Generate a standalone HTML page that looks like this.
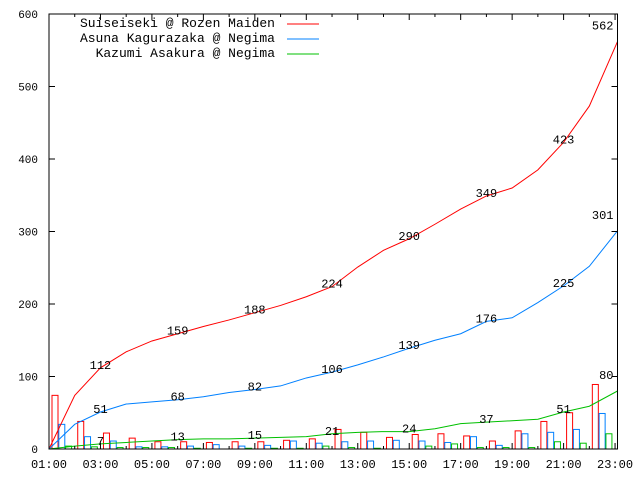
<!DOCTYPE html>
<html><head><meta charset="utf-8"><style>
body{margin:0;background:#fff}
svg{display:block}
text{font-family:"Liberation Mono","DejaVu Sans Mono",monospace;fill:#000}
</style></head><body>
<svg id="chart" width="640" height="480" xmlns="http://www.w3.org/2000/svg">
<rect x="0" y="0" width="640" height="480" fill="#fff"/>
<g id="bars"></g>
<g id="lines"></g>
<g id="axes"></g>
<g id="legend"></g>
</svg>
<script>
const hourLabels = ["01:00","03:00","05:00","07:00","09:00","11:00","13:00","15:00","17:00","19:00","21:00","23:00"];
const yTicks = [0,100,200,300,400,500,600];
const seriesNames = ["Suiseiseki @ Rozen Maiden","Asuna Kagurazaka @ Negima","Kazumi Asakura @ Negima"];
const seriesColors = ["#ff0000","#0080ff","#00c000"];
const redHourly = [74,38,22,15,10,10,9,10,10,12,14,27,23,16,20,21,18,11,25,38,50,89];
const blueHourly = [34,17,11,3,3,4,6,4,5,11,8,10,11,12,11,9,17,5,21,23,27,49];
const greenHourly = [4,3,2,2,2,1,0,1,1,1,4,2,1,0,4,7,2,2,2,10,8,21];
const labelIdx = [1,4,7,10,13,16,19];
const allHourly = [redHourly, blueHourly, greenHourly];

const NS = "http://www.w3.org/2000/svg";
const L = 49, R = 617.5, T = 14, B = 449;
const hourW = 25.73;
function xH(h){ return L + h*hourW; }
function yV(v){ return B - v*(B-T)/600; }
function mk(tag, attrs, parent){
  const e = document.createElementNS(NS, tag);
  for (const k in attrs) e.setAttribute(k, attrs[k]);
  parent.appendChild(e); return e;
}
const bars = document.getElementById('bars');
const lines = document.getElementById('lines');
const axes = document.getElementById('axes');
const legend = document.getElementById('legend');

allHourly.forEach((arr, s) => {
  arr.forEach((v, h) => {
    const x = xH(h) + 3 + s*6.8;
    const r = mk('rect', {x: x, y: yV(v), width: 6, height: Math.max(0, B - yV(v)), fill: 'none', stroke: seriesColors[s], 'stroke-width': 1}, bars);
    
    
  });
});

allHourly.forEach((arr, s) => {
  let c = 0; const pts = [[xH(0), yV(0)]]; const cum = [];
  arr.forEach((v, h) => {
    c += v; cum.push(c);
    const hx = (h === arr.length-1) ? (R - L)/hourW : h+1;
    pts.push([xH(hx), yV(c)]);
  });
  const p = mk('polyline', {points: pts.map(p => p.join(',')).join(' '), fill: 'none', stroke: seriesColors[s], 'stroke-width': 1}, lines);
  
  
  labelIdx.forEach(i => {
    const t = mk('text', {x: xH(i+1), y: yV(cum[i]) + 1, 'font-size': 12, 'text-anchor': 'middle'}, lines);
    t.textContent = cum[i];
    
    
  });
  const tl = mk('text', {x: R - 4, y: yV(cum[cum.length-1]) - 12, 'font-size': 12, 'text-anchor': 'end'}, lines);
  tl.textContent = cum[cum.length-1];
  
  
});

const fr = mk('rect', {x: L, y: T, width: R-L, height: B-T, fill: 'none', stroke: '#000', 'stroke-width': 1}, axes);


yTicks.forEach(v => {
  mk('line', {x1: L, x2: L+6, y1: yV(v), y2: yV(v), stroke: '#000'}, axes);
  mk('line', {x1: R-6, x2: R, y1: yV(v), y2: yV(v), stroke: '#000'}, axes);
  const t = mk('text', {x: 38, y: yV(v)+4, 'font-size': 11, 'text-anchor': 'end'}, axes);
  t.textContent = v;
  
  
});
for (let h = 0; h <= 22; h++) {
  const len = (h % 2 === 0) ? 6 : 3;
  mk('line', {x1: xH(h), x2: xH(h), y1: B, y2: B-len, stroke: '#000'}, axes);
  mk('line', {x1: xH(h), x2: xH(h), y1: T, y2: T+len, stroke: '#000'}, axes);
}
hourLabels.forEach((lab, i) => {
  const t = mk('text', {x: xH(i*2), y: 468, 'font-size': 12, 'text-anchor': 'middle'}, axes);
  t.textContent = lab;
  
  
});

seriesNames.forEach((n, i) => {
  const y = 27 + i*15;
  const t = mk('text', {x: 275, y: y, 'font-size': 13, 'text-anchor': 'end'}, legend);
  t.textContent = n;
  
  
  const l = mk('line', {x1: 287, x2: 319, y1: y-3, y2: y-3, stroke: seriesColors[i]}, legend);
  
  
});
</script>
</body></html>
